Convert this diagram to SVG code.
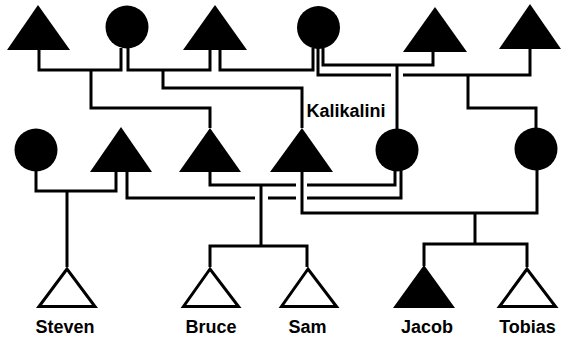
<svg xmlns="http://www.w3.org/2000/svg" width="561" height="340" viewBox="0 0 561 340">
<style>
.f{fill:#000;stroke:none}
.o{fill:#fff;stroke:#000;stroke-width:3;stroke-linejoin:miter}
.c path{fill:none;stroke:#000;stroke-width:3;stroke-linecap:butt;stroke-linejoin:miter}
text{font-family:"Liberation Sans",Arial,Helvetica,sans-serif;font-weight:bold;font-size:18px;fill:#000;text-anchor:middle}
</style>
<rect width="561" height="340" fill="#fff"/>
<g class="c" id="connectors">
<path d="M39 50V70H121V48"/>
<path d="M91 70V108H210V128"/>
<path d="M128 48V70H210V50"/>
<path d="M163 70V88H302V128"/>
<path d="M220 50V70H313V48"/>
<path d="M318 48V75H391M403 75H530V49"/>
<path d="M323 48V65H433V52"/>
<path d="M397 65V129"/>
<path d="M468 75V108H536V128"/>
<path d="M36 171V191H116V172"/>
<path d="M67 191V267"/>
<path d="M127 172V198H255M268 198H296M307 198H401V170"/>
<path d="M210 172V185H296M307 185H395V171"/>
<path d="M261 185V246"/>
<path d="M210 267V246H307V267"/>
<path d="M302 172V213H537V170"/>
<path d="M475 213V244"/>
<path d="M424 266V244H527V267"/>
</g>
<g id="t1"><polygon class="f" points="38,5 7,50 70,50"/></g>
<g id="c1"><circle class="f" cx="127" cy="27" r="21.5"/></g>
<g id="t2"><polygon class="f" points="215,5 183,50 247,50"/></g>
<g id="c2"><circle class="f" cx="318.5" cy="27.5" r="21.5"/></g>
<g id="t3"><polygon class="f" points="435,7 403,52 467,52"/></g>
<g id="t4"><polygon class="f" points="530,4 499,49 561,49"/></g>
<g id="c5"><circle class="f" cx="36" cy="150" r="21.5"/></g>
<g id="t6"><polygon class="f" points="121,127 90,172 152,172"/></g>
<g id="t7"><polygon class="f" points="210,128 179,172 241,172"/></g>
<g id="t8"><polygon class="f" points="302,128 270,172 333,172"/></g>
<g id="kalikalini"><circle class="f" cx="397" cy="150" r="21.5"/><text x="346" y="117">Kalikalini</text></g>
<g id="c10"><circle class="f" cx="536" cy="149" r="21.5"/></g>
<g id="steven"><polygon class="o" points="67,269 39,306.5 95,306.5"/><text x="65" y="333">Steven</text></g>
<g id="bruce"><polygon class="o" points="210,269 183.5,306.5 238.5,306.5"/><text x="211" y="333">Bruce</text></g>
<g id="sam"><polygon class="o" points="308,269 281.5,306.5 336.5,306.5"/><text x="307.5" y="333">Sam</text></g>
<g id="jacob"><polygon class="f" points="424,265 393,308 455,308"/><text x="427" y="333">Jacob</text></g>
<g id="tobias"><polygon class="o" points="527,269 499.5,306.5 555.5,306.5"/><text x="527.5" y="333">Tobias</text></g>
</svg>
